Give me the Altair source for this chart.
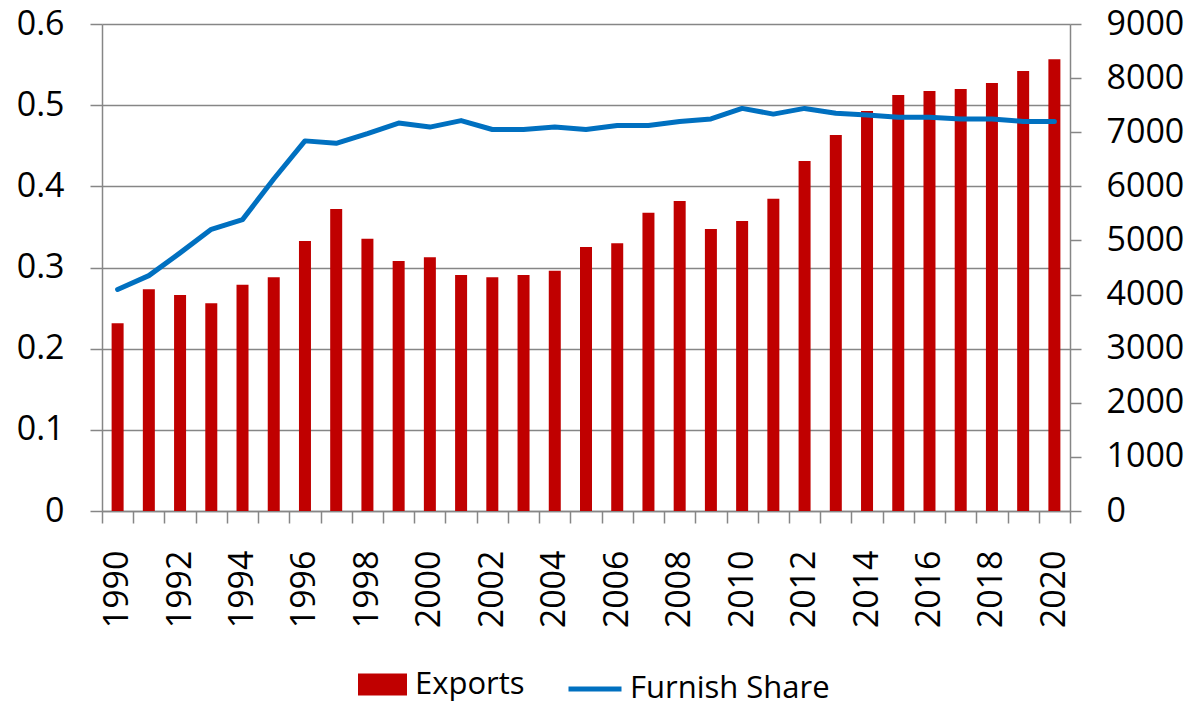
import altair as alt
import pandas as pd

years = list(range(1990, 2021))
exports = [3470, 4100, 3990, 3840, 4180, 4320, 4990, 5580, 5030, 4620,
           4690, 4360, 4320, 4360, 4440, 4880, 4950, 5510, 5730, 5210,
           5360, 5770, 6470, 6950, 7390, 7690, 7760, 7800, 7910, 8130, 8350]
share = [0.273, 0.290, 0.318, 0.347, 0.359, 0.409, 0.456, 0.453, 0.465, 0.478,
         0.473, 0.481, 0.470, 0.470, 0.473, 0.470, 0.475, 0.475, 0.480, 0.483,
         0.496, 0.489, 0.496, 0.490, 0.488, 0.485, 0.485, 0.483, 0.483, 0.480, 0.480]
left_ticks = [0, 0.1, 0.2, 0.3, 0.4, 0.5, 0.6]
right_ticks = [0, 1000, 2000, 3000, 4000, 5000, 6000, 7000, 8000, 9000]
bar_name = "Exports"
line_name = "Furnish Share"

df = pd.DataFrame({
    "year": years,
    "exports": exports,
    "share": share,
    "bar_series": [bar_name] * len(years),
    "line_series": [line_name] * len(years),
})

FONT = "Open Sans"
GRAY = "#868686"
RED = "#C00000"
BLUE = "#0070C0"
AX_FS = 34
LEG_FS = 31

x_enc = alt.X(
    "year:O",
    scale=alt.Scale(paddingInner=0, paddingOuter=0),
    axis=alt.Axis(
        title=None, labelAngle=-90,
        labelExpr="toNumber(datum.value) % 2 == 0 ? datum.label : ''",
        tickBand="extent", tickSize=12, labelPadding=27,
        labelFontSize=AX_FS, labelFont=FONT, labelColor="black",
        domainColor=GRAY, tickColor=GRAY, domainWidth=1.5, tickWidth=1.5,
        grid=False,
    ),
)

bars = alt.Chart(df).mark_bar(size=12).encode(
    x=x_enc,
    y=alt.Y(
        "exports:Q",
        scale=alt.Scale(domain=[0, 9000], nice=False),
        axis=alt.Axis(
            orient="right", values=right_ticks, format="d", title=None, grid=False,
            tickSize=11, labelPadding=25, labelFontSize=AX_FS, labelFont=FONT,
            labelColor="black", domainColor=GRAY, tickColor=GRAY,
            domainWidth=1.5, tickWidth=1.5,
        ),
    ),
    fill=alt.Fill(
        "bar_series:N",
        scale=alt.Scale(domain=[bar_name], range=[RED]),
        legend=alt.Legend(
            title=None, orient="none", legendX=256, legendY=636,
            symbolType="M-1,-0.45L1,-0.45L1,0.45L-1,0.45Z", symbolSize=2401,
            symbolStrokeWidth=0, symbolOpacity=1,
            labelFontSize=LEG_FS, labelFont=FONT, labelColor="black",
            labelOffset=8, labelLimit=400, padding=0,
        ),
    ),
)

line = alt.Chart(df).mark_line(strokeWidth=5, strokeCap="round", strokeJoin="round").encode(
    x=x_enc,
    y=alt.Y(
        "share:Q",
        scale=alt.Scale(domain=[0, 0.6], nice=False),
        axis=alt.Axis(
            orient="left", values=left_ticks, format="~g", title=None,
            grid=True, gridColor=GRAY, gridWidth=1.5,
            tickSize=12, labelPadding=26, labelFontSize=AX_FS, labelFont=FONT,
            labelColor="black", domainColor=GRAY, tickColor=GRAY,
            domainWidth=1.5, tickWidth=1.5,
        ),
    ),
    stroke=alt.Stroke(
        "line_series:N",
        scale=alt.Scale(domain=[line_name], range=[BLUE]),
        legend=alt.Legend(
            title=None, orient="none", legendX=464, legendY=636,
            symbolType="stroke", symbolSize=2809, symbolStrokeWidth=5,
            labelFontSize=LEG_FS, labelFont=FONT, labelColor="black",
            labelOffset=6, labelLimit=400, padding=0,
        ),
    ),
)

chart = (
    alt.layer(bars, line)
    .resolve_scale(y="independent", fill="independent", stroke="independent")
    .properties(
        width=968, height=487,
        autosize=alt.AutoSizeParams(type="none"),
        padding={"left": 94, "top": 16, "right": 115, "bottom": 190},
        background="white",
    )
    .configure_view(stroke=None)
)

chart.save("out.html", embed_options={"renderer": "svg", "actions": False})
